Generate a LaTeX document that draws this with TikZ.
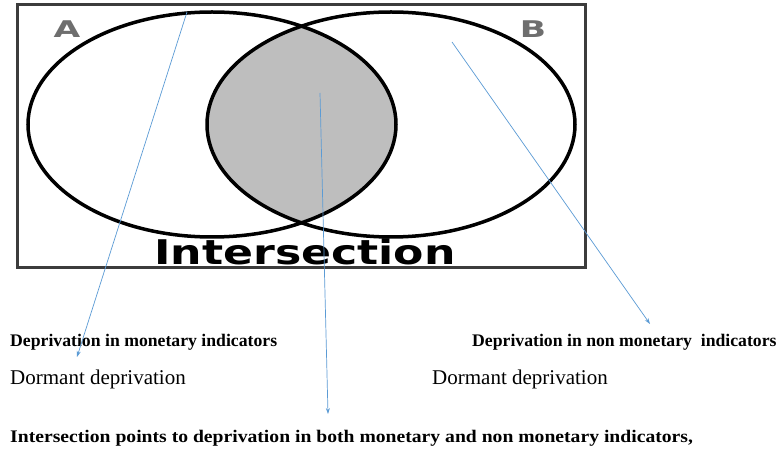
\documentclass[tikz,border=0pt]{standalone}
\usepackage{fontspec}
\setmainfont{Liberation Serif}
\newfontfamily\vennfont{DejaVu Sans}
\usetikzlibrary{arrows.meta}
\definecolor{interfill}{HTML}{BEBEBE}
\definecolor{pointer}{HTML}{5B9BD5}
\definecolor{framegray}{HTML}{3C3C3C}
\definecolor{setgray}{HTML}{6E6E6E}
\tikzset{
  setline/.style={line width=3.5pt, black},
  framebox/.style={line width=3pt, framegray},
  pointerline/.style={pointer, line width=0.7pt, -{Stealth[length=6pt,width=4pt]}},
  boldlabel/.style={anchor=base west, inner sep=0pt, font=\fontsize{17.7}{20}\selectfont\bfseries},
  plainlabel/.style={anchor=base west, inner sep=0pt, font=\fontsize{21}{24}\selectfont},
  setname/.style={inner sep=0pt, setgray, xscale=1.5, font=\vennfont\fontsize{23}{26}\selectfont\bfseries},
}
\begin{document}
\begin{tikzpicture}[x=1pt,y=-1pt]
\useasboundingbox (0,0) rectangle (780,454);
\fill[white] (0,0) rectangle (780,454);
% frame
\draw[framebox] (17,5) rectangle (585,268);
% shaded intersection
\begin{scope}
  \clip (212,124.5) ellipse [x radius=184, y radius=112.5];
  \fill[interfill] (391,124.5) ellipse [x radius=184, y radius=112.5];
\end{scope}
% sets
\draw[setline] (212,124.5) ellipse [x radius=184, y radius=112.5];
\draw[setline] (391,124.5) ellipse [x radius=184, y radius=112.5];
\node[setname] (A) at (67,29) {A};
\node[setname] (B) at (533,29) {B};
\node[inner sep=0pt, anchor=base, xscale=1.3, font=\vennfont\fontsize{34}{38}\selectfont\bfseries] (inter) at (305,265) {Intersection};
% anchors of pointers
\coordinate (pA) at (187,12);
\coordinate (pI) at (320,93);
\coordinate (pB) at (452,42);
\coordinate (tA) at (77,357);
\coordinate (tI) at (328,414);
\coordinate (tB) at (650,324);
% labels
\node[boldlabel] (monA) at (10,347) {Deprivation in monetary indicators};
\node[boldlabel] (monB) at (472,347) {Deprivation in non monetary\ \ indicators};
\node[plainlabel] (dorA) at (10,385) {Dormant deprivation};
\node[plainlabel] (dorB) at (432,385) {Dormant deprivation};
\node[boldlabel, xscale=1.11] (both) at (10,443) {Intersection points to deprivation in both monetary and non monetary indicators,};
% pointers
\draw[pointerline] (pA) -- (tA);
\draw[pointerline] (pI) -- (tI);
\draw[pointerline] (pB) -- (tB);
\end{tikzpicture}
\end{document}
